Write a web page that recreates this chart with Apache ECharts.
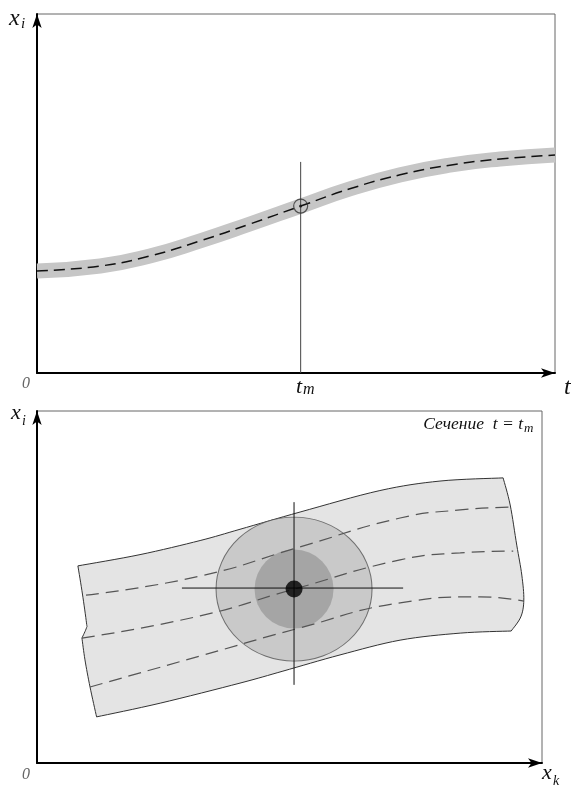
<!DOCTYPE html>
<html><head><meta charset="utf-8">
<script src="https://cdn.jsdelivr.net/npm/echarts@6/dist/echarts.min.js"></script>
<style>html,body{margin:0;padding:0;background:#fff}#c{width:571px;height:785px}</style>
</head><body><div id="c"></div>
<script>
// ---- top panel data: x_i(t) ----
const topT = [0, 12.2, 21.8, 31.5, 41.1, 50.9, 60.4, 70.1, 79.7, 89.4, 100];
const topX = [28.4, 29.8, 32.6, 36.8, 41.5, 46.5, 51.3, 55.2, 57.9, 59.6, 60.7];
const tm = 50.9;
const tmLineTop = 58.8;
const tmValue = 46.5;

// ---- bottom panel data: section t = t_m (band outline edges) ----
const bandTop = [[8.1,56.0],[20.4,59.2],[32.3,63.2],[40.2,66.4],[52.1,71.3],[67.9,77.4],[79.8,80.1],[92.3,81.0]];
const bandRight = [[92.3,81.0],[93.7,73.3],[95.0,61.9],[96.0,53.4],[96.4,46.3],[95.8,41.5],[93.9,37.5]];
const bandBottom = [[93.9,37.5],[83.8,36.9],[71.9,34.9],[60.0,30.7],[48.7,26.1],[40.2,22.7],[24.4,17.0],[11.8,13.1]];
const bandLeftLow = [[11.8,13.1],[10.5,21.6],[9.5,29.3],[8.9,35.5]];
const bandLeftUp = [[8.9,35.5],[9.8,38.4],[9.8,39.8],[9.0,48.0],[8.1,56.0]];
const dash1 = [[9.7,47.7],[32.3,53.1],[52.1,61.4],[71.9,69.6],[83.8,71.9],[93.7,72.7]];
const dash2 = [[8.9,35.5],[32.3,41.8],[50.9,49.4],[71.9,57.7],[83.8,59.7],[94.3,60.2]];
const dash3 = [[10.5,21.6],[32.3,30.4],[52.1,38.4],[71.9,45.5],[87.7,47.2],[96.4,46.0]];
const center = [50.9, 49.4];
const crossV = [[50.9,74.1],[50.9,22.2]];
const crossH = [[28.7,49.7],[72.5,49.7]];

function catmull(pts, n) {
  const out = [];
  for (let i = 0; i < pts.length - 1; i++) {
    const p0 = pts[i - 1] || pts[i], p1 = pts[i], p2 = pts[i + 1], p3 = pts[i + 2] || pts[i + 1];
    for (let s = 0; s < n; s++) {
      const t = s / n, t2 = t * t, t3 = t2 * t;
      out.push([0, 1].map(k => 0.5 * ((2 * p1[k]) + (-p0[k] + p2[k]) * t +
        (2 * p0[k] - 5 * p1[k] + 4 * p2[k] - p3[k]) * t2 + (-p0[k] + 3 * p1[k] - 3 * p2[k] + p3[k]) * t3)));
    }
  }
  out.push(pts[pts.length - 1]);
  return out;
}

const chart = echarts.init(document.getElementById('c'));
const serif = "Liberation Serif";
const axisCommon = {
  type: 'value', min: 0, max: 100,
  axisTick: {show: false}, axisLabel: {show: false}, splitLine: {show: false},
  axisLine: {show: true, lineStyle: {color: '#000', width: 2}, symbol: ['none','arrow'], symbolSize: [7, 14]}
};
function T(text, x, y, size, color, align) {
  return {type: 'text', z: 100, style: {text: text, x: x, y: y, fontFamily: serif, fontStyle: 'italic', fontSize: size,
    fill: color || '#111', textAlign: align || 'left', textVerticalAlign: 'bottom'}};
}
const option = {
  animation: false,
  backgroundColor: '#fff',
  grid: [
    {left: 37, top: 14, width: 518, height: 359, show: true, borderColor: '#666', borderWidth: 1},
    {left: 37, top: 411, width: 505, height: 352, show: true, borderColor: '#666', borderWidth: 1}
  ],
  xAxis: [Object.assign({gridIndex: 0}, axisCommon), Object.assign({gridIndex: 1}, axisCommon)],
  yAxis: [Object.assign({gridIndex: 0}, axisCommon), Object.assign({gridIndex: 1}, axisCommon)],
  series: [
    {type: 'line', xAxisIndex: 0, yAxisIndex: 0, data: topT.map((t,i)=>[t, topX[i]]), smooth: true,
     symbol: 'none', lineStyle: {color: '#c6c6c6', width: 15}, z: 2},
    {type: 'line', xAxisIndex: 0, yAxisIndex: 0, data: topT.map((t,i)=>[t, topX[i]]), smooth: true,
     symbol: 'none', lineStyle: {color: '#111', width: 1.5, type: [11, 6]}, z: 3},
    {type: 'line', xAxisIndex: 0, yAxisIndex: 0, data: [[tm, 0], [tm, tmLineTop]],
     symbol: 'none', lineStyle: {color: '#444', width: 1}, z: 4},
    {type: 'scatter', xAxisIndex: 0, yAxisIndex: 0, data: [[tm, tmValue]], symbolSize: 14,
     itemStyle: {color: 'rgba(0,0,0,0)', borderColor: '#333', borderWidth: 1.2}, z: 5},
    {type: 'scatter', xAxisIndex: 0, yAxisIndex: 0, data: [[tm, tmValue]], symbolSize: 3,
     itemStyle: {color: '#111'}, z: 6},
    // bottom
    {type: 'custom', xAxisIndex: 1, yAxisIndex: 1, data: [0], z: 2,
     renderItem: function(params, api) {
       const edges = [bandTop, bandRight, bandBottom, bandLeftLow, bandLeftUp];
       let pts = [];
       edges.forEach(e => { pts = pts.concat(catmull(e.map(p => api.coord(p)), 8)); });
       return {type: 'polygon', shape: {points: pts},
         style: {fill: '#e4e4e4', stroke: '#333', lineWidth: 1}};
     }},
    {type: 'scatter', xAxisIndex: 1, yAxisIndex: 1, data: [center], symbolSize: [156, 144],
     itemStyle: {color: '#c2c2c2', borderColor: '#555', borderWidth: 1}, z: 3},
    {type: 'scatter', xAxisIndex: 1, yAxisIndex: 1, data: [center], symbolSize: [79, 79],
     itemStyle: {color: '#9c9c9c'}, z: 4},
    {type: 'line', xAxisIndex: 1, yAxisIndex: 1, data: dash1, smooth: true, symbol: 'none',
     lineStyle: {color: '#555', width: 1.2, type: [13, 7]}, z: 5},
    {type: 'line', xAxisIndex: 1, yAxisIndex: 1, data: dash2, smooth: true, symbol: 'none',
     lineStyle: {color: '#555', width: 1.2, type: [13, 7]}, z: 5},
    {type: 'line', xAxisIndex: 1, yAxisIndex: 1, data: dash3, smooth: true, symbol: 'none',
     lineStyle: {color: '#555', width: 1.2, type: [13, 7]}, z: 5},
    {type: 'line', xAxisIndex: 1, yAxisIndex: 1, data: crossV, symbol: 'none',
     lineStyle: {color: '#111', width: 1}, z: 6},
    {type: 'line', xAxisIndex: 1, yAxisIndex: 1, data: crossH, symbol: 'none',
     lineStyle: {color: '#111', width: 1}, z: 6},
    {type: 'scatter', xAxisIndex: 1, yAxisIndex: 1, data: [center], symbolSize: 17,
     itemStyle: {color: '#000'}, z: 7}
  ],
  graphic: [
    T('x', 9, 31, 24), T('i', 21, 32, 15),
    T('0', 22, 392, 16, '#666'),
    T('t', 302, 398, 22, '#111', 'right'), T('m', 303, 398, 16),
    T('t', 564, 400, 24),
    T('x', 11, 424, 22), T('i', 22, 428, 14),
    T('0', 22, 783, 16, '#666'),
    T('x', 542, 784, 22), T('k', 553, 788, 14),
    T('Сечение  t = t', 523, 433, 17.5, '#111', 'right'), T('m', 524, 435, 13)
  ]
};
chart.setOption(option);
</script></body></html>
